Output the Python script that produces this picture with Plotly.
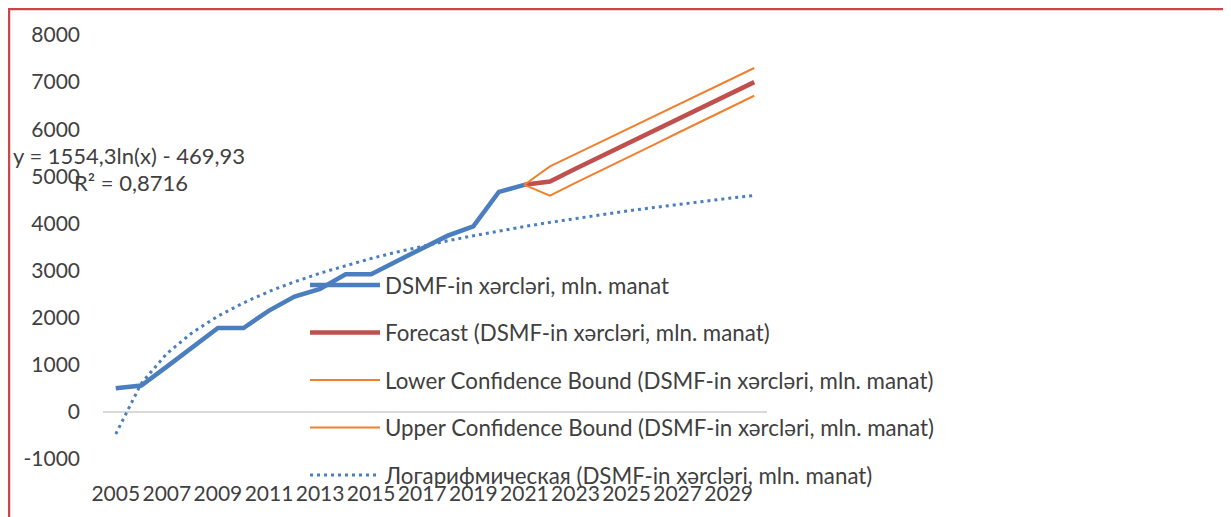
import plotly.graph_objects as go

# ---------------- data ----------------
years_actual = [2005, 2006, 2007, 2008, 2009, 2010, 2011, 2012, 2013, 2014, 2015,
                2016, 2017, 2018, 2019, 2020, 2021]
actual = [500, 560, 960, 1370, 1780, 1780, 2150, 2450, 2610, 2920, 2920,
          3200, 3480, 3740, 3940, 4670, 4820]

years_fc = [2021, 2022, 2023, 2024, 2025, 2026, 2027, 2028, 2029, 2030]
forecast = [4820, 4890, 5160, 5420, 5690, 5950, 6210, 6480, 6740, 7000]
lower = [4820, 4590, 4860, 5120, 5390, 5650, 5920, 6180, 6450, 6710]
upper = [4820, 5210, 5470, 5730, 6000, 6260, 6520, 6780, 7040, 7300]

years_all = list(range(2005, 2031))
trend = [-470, 607, 1238, 1685, 2032, 2315, 2555, 2762, 2945, 3109, 3257, 3392, 3517,
         3632, 3739, 3840, 3934, 4023, 4107, 4186, 4262, 4334, 4404, 4470, 4533, 4594]

tick_years = list(range(2005, 2030, 2))
tick_text = [str(y) for y in tick_years]
y_ticks = [-1000, 0, 1000, 2000, 3000, 4000, 5000, 6000, 7000, 8000]
y_tick_text = ["-1000", "0", "1000", "2000", "3000", "4000", "5000", "6000", "7000", "8000"]

names = ["DSMF-in xərcləri, mln. manat",
         "Forecast (DSMF-in xərcləri, mln. manat)",
         "Lower Confidence Bound (DSMF-in xərcləri, mln. manat)",
         "Upper Confidence Bound (DSMF-in xərcləri, mln. manat)",
         "Логарифмическая (DSMF-in xərcləri, mln. manat)"]
equation = "y = 1554,3ln(x) - 469,93"
r2 = "R² = 0,8716"

# ---------------- styling ----------------
# the page body has an 8px margin, so the figure starts at screen (8, 8)
OFF = 8
W, H = 1231 - OFF, 517 - OFF
# plot area in screen pixels: x 103..767, y 35..459
L = 103 - OFF
T = 35 - OFF
R = W - (767 - OFF)
B = H - (459 - OFF)
FONT = "Lato, 'Noto Sans', sans-serif"
TXT = "#404040"
BLUE = "#4A7EBF"
RED = "#C0504D"
ORANGE = "#F0802F"
BORDER = "#C9474A"

fig = go.Figure()
fig.add_trace(go.Scatter(x=years_actual, y=actual, mode="lines", name=names[0],
                         line=dict(color=BLUE, width=4.5), legendgroup="a"))
fig.add_trace(go.Scatter(x=years_fc, y=forecast, mode="lines", name=names[1],
                         line=dict(color=RED, width=4.5), legendgroup="b"))
fig.add_trace(go.Scatter(x=years_fc, y=lower, mode="lines", name=names[2],
                         line=dict(color=ORANGE, width=2), legendgroup="c"))
fig.add_trace(go.Scatter(x=years_fc, y=upper, mode="lines", name=names[3],
                         line=dict(color=ORANGE, width=2), legendgroup="d"))
fig.add_trace(go.Scatter(x=years_all, y=trend, mode="lines", name=names[4],
                         line=dict(color=BLUE, width=3, dash="3px,4px"), legendgroup="e"))

pw = W - L - R
ph = H - T - B


def px_x(p):
    """screen pixel x -> paper coordinate"""
    return (p - OFF - L) / pw


def px_y(p):
    """screen pixel y -> paper coordinate"""
    return (H - B - (p - OFF)) / ph


fig.update_layout(
    width=W, height=H,
    margin=dict(l=L, r=R, t=T, b=B, autoexpand=False),
    paper_bgcolor="white", plot_bgcolor="white",
    font=dict(family=FONT, size=21, color=TXT),
    showlegend=True,
    legend=dict(x=px_x(305), y=px_y(264), xanchor="left", yanchor="top",
                bgcolor="rgba(0,0,0,0)", font=dict(size=22.3, color=TXT),
                tracegroupgap=15.5, itemwidth=70),
    xaxis=dict(range=[2004.5, 2030.5], tickmode="array", tickvals=tick_years,
               ticktext=tick_text, showgrid=False, zeroline=False, showline=False,
               ticks="", ticklabelstandoff=20, tickfont=dict(size=21, color=TXT)),
    yaxis=dict(range=[-1000, 8000], tickmode="array", tickvals=y_ticks,
               ticktext=y_tick_text, showgrid=False,
               zeroline=True, zerolinecolor="#D9D9D9", zerolinewidth=1.5,
               showline=False, ticks="", ticklabelstandoff=22,
               tickfont=dict(size=21, color=TXT)),
    annotations=[
        dict(x=px_x(129), y=px_y(155), xref="paper", yref="paper", text=equation,
             xanchor="center", yanchor="middle",
             showarrow=False, font=dict(size=22, color=TXT)),
        dict(x=px_x(131), y=px_y(182), xref="paper", yref="paper", text=r2,
             xanchor="center", yanchor="middle",
             showarrow=False, font=dict(size=22, color=TXT)),
    ],
    shapes=[
        dict(type="line", xref="paper", yref="paper", x0=px_x(8), x1=px_x(1231),
             y0=px_y(9), y1=px_y(9), line=dict(color=BORDER, width=2.5)),
        dict(type="line", xref="paper", yref="paper", x0=px_x(9), x1=px_x(9),
             y0=px_y(8), y1=px_y(517), line=dict(color=BORDER, width=2.5)),
    ],
)

fig.write_html("out.html")
